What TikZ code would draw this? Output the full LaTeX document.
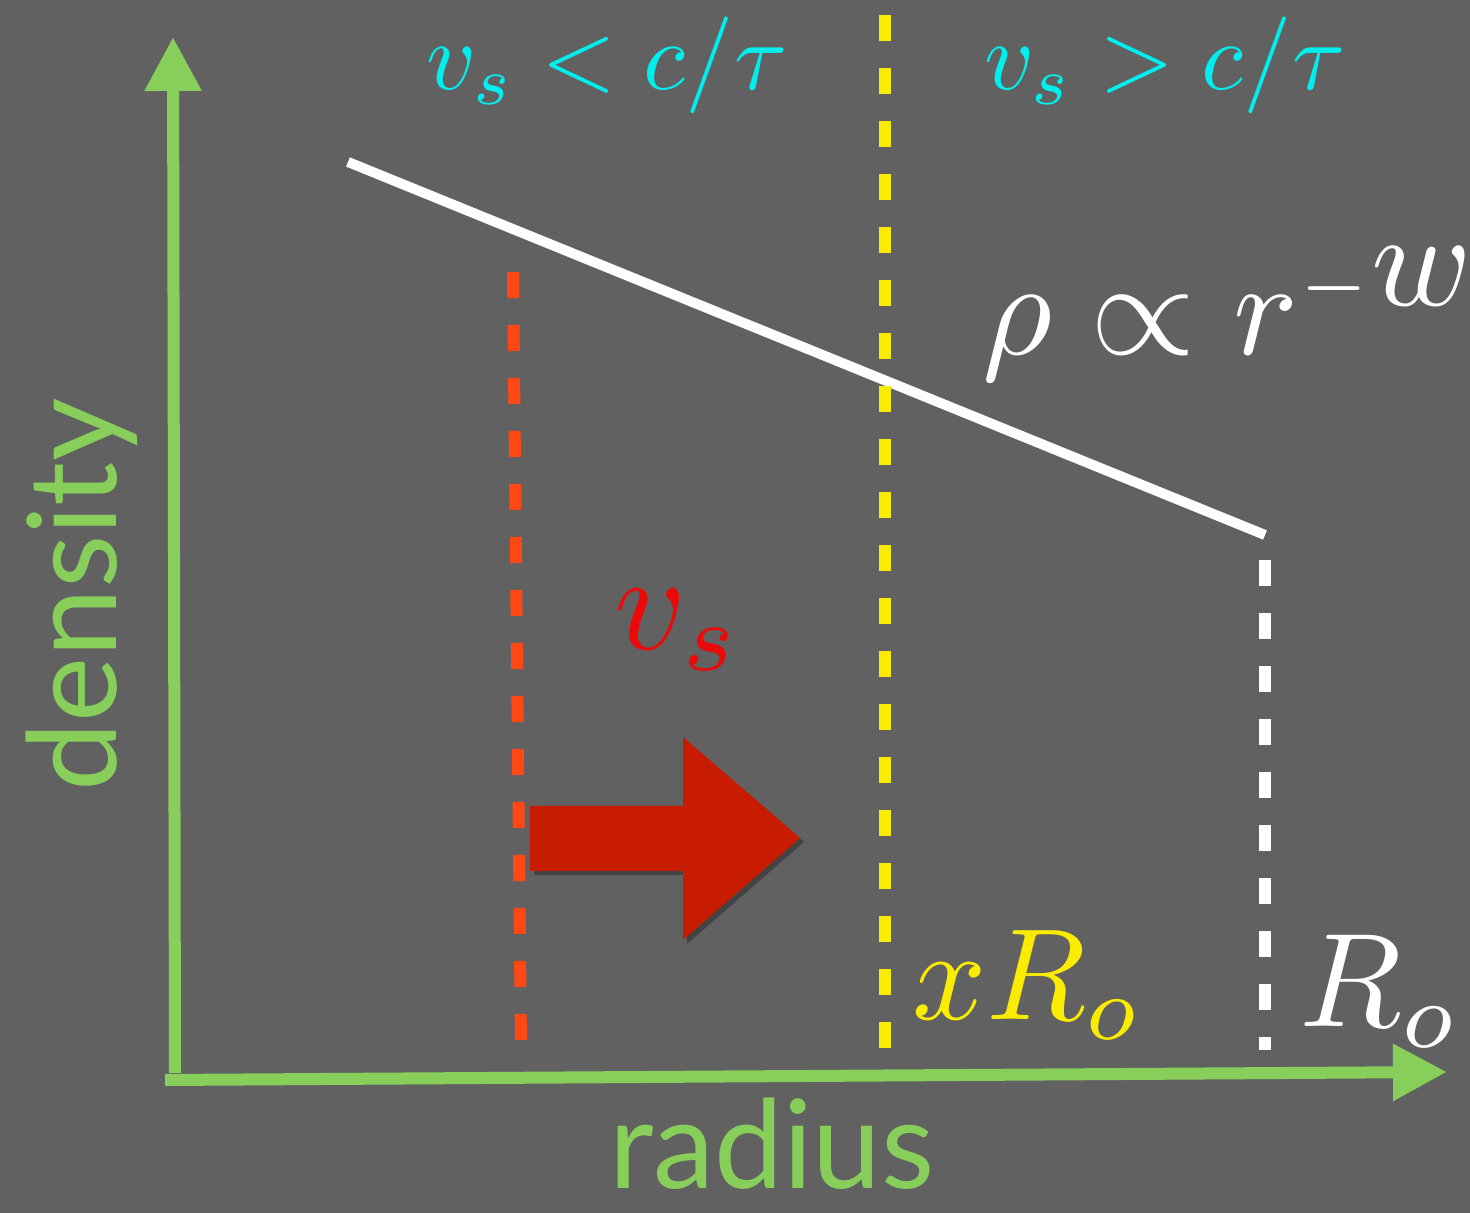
\documentclass[tikz,border=0pt]{standalone}
\usepackage{fontspec}
\newfontfamily\axisfont{Lato}
\usetikzlibrary{arrows.meta,shadows}

\definecolor{bggray}{RGB}{97,97,97}
\definecolor{axisgreen}{RGB}{135,206,90}
\definecolor{labelcyan}{RGB}{0,238,238}
\definecolor{cutyellow}{RGB}{250,236,0}
\definecolor{cutred}{RGB}{255,72,20}
\definecolor{shockred}{RGB}{200,28,0}
\definecolor{textred}{RGB}{235,10,10}

\begin{document}
\begin{tikzpicture}[
	axis/.style={draw=axisgreen,line width=0.12cm,-{Triangle[length=0.54cm,width=0.54cm]}},
	cut/.style={line width=0.12cm,dash pattern=on 0.26cm off 0.27cm},
	axislabel/.style={text=axisgreen,font=\axisfont\fontsize{35}{40}\selectfont,inner sep=0pt},
	mathlabel/.style={inner sep=0pt,font=\fontsize{10}{12}\selectfont}
]
	\useasboundingbox[fill=bggray] (0,0) rectangle (14.7,12.13);

	% axes
	\coordinate (xstart) at (1.65,1.33);
	\coordinate (xend) at (14.47,1.41);
	\coordinate (ystart) at (1.75,1.40);
	\coordinate (yend) at (1.73,11.76);
	\draw[axis] (xstart) -- (xend);
	\draw[axis] (ystart) -- (yend);
	\node[axislabel,rotate=90,anchor=base] (density) at (1.17,6.18) {density};
	\node[axislabel,anchor=base] (radius) at (7.72,0.24) {radius};

	% density profile
	\coordinate (rhoin) at (3.48,10.51);
	\coordinate (rhoout) at (12.65,6.78);
	\draw[white,line width=0.1cm] (rhoin) -- (rhoout);

	% shock, critical and outer radii
	\coordinate (shocktop) at (5.13,9.41);
	\coordinate (shockbot) at (5.21,1.68);
	\coordinate (crittop) at (8.85,11.98);
	\coordinate (critbot) at (8.85,1.58);
	\coordinate (outtop) at (12.65,6.53);
	\coordinate (outbot) at (12.65,1.63);
	\draw[cut,cutred] (shocktop) -- (shockbot);
	\draw[cut,cutyellow] (crittop) -- (critbot);
	\draw[cut,white] (outtop) -- (outbot);

	% shock velocity arrow
	\fill[shockred,drop shadow={opacity=0.3,fill=black,shadow xshift=0.04cm,shadow yshift=-0.04cm}]
		(5.30,4.07) -- (6.83,4.07) -- (6.83,4.76) -- (8.00,3.75)
		-- (6.83,2.73) -- (6.83,3.42) -- (5.30,3.42) -- cycle;

	% labels
	\node[mathlabel,text=labelcyan,anchor=base,scale=2.75] (slow) at (6.07,11.23) {$v_s < c/\tau$};
	\node[mathlabel,text=labelcyan,anchor=base,scale=2.75] (fast) at (11.65,11.23) {$v_s > c/\tau$};
	\node[mathlabel,text=white,anchor=base west,scale=3.85] (power) at (9.80,8.58) {$\rho \propto r^{\scriptscriptstyle -\textstyle w}$};
	\node[mathlabel,text=textred,anchor=base west,scale=3.95] (vs) at (6.12,5.63) {$v_s$};
	\node[mathlabel,text=cutyellow,anchor=base west,scale=3.7] (xro) at (9.10,1.93) {$xR_o$};
	\node[mathlabel,text=white,anchor=base west,scale=3.8] (ro) at (12.97,1.86) {$R_o$};
\end{tikzpicture}
\end{document}
